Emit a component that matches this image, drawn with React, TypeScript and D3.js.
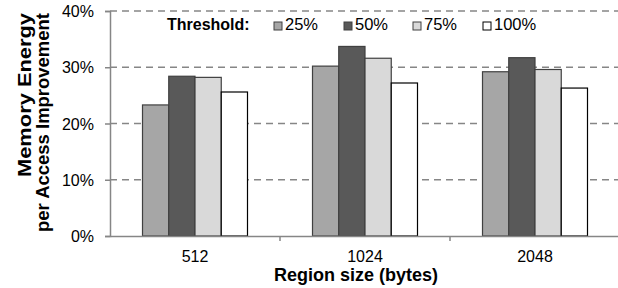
import React, { useRef, useEffect } from 'react';
import * as d3 from 'd3';

const categories = ['512', '1024', '2048'];
const thresholds = ['25%', '50%', '75%', '100%'];
const values = [
  [23.3, 28.4, 28.2, 25.6],
  [30.2, 33.7, 31.6, 27.2],
  [29.2, 31.7, 29.6, 26.3],
];
const yTicks = [0, 10, 20, 30, 40];
const fills = ['#a6a6a6', '#595959', '#d9d9d9', '#ffffff'];
const strokes = ['#404040', '#404040', '#404040', '#000000'];

const W = 618;
const H = 288;
const FONT = '"Liberation Sans", Arial, sans-serif';

function App() {
  const svgRef = useRef<SVGSVGElement>(null);

  useEffect(() => {
    const svg = d3.select(svgRef.current);
    svg.selectAll('*').remove();

    const left = 110, right = 620, top = 11, bottom = 236;

    const x = d3.scaleBand().domain(categories).range([left, right]);
    const inner = d3.scaleBand().domain(thresholds).range([0, 105]);
    const y = d3.scaleLinear().domain([0, 40]).range([bottom, top]);

    // gridlines
    svg.append('g')
      .selectAll('line')
      .data(yTicks.filter(d => d > 0))
      .join('line')
      .attr('x1', left).attr('x2', W)
      .attr('y1', d => y(d)).attr('y2', d => y(d))
      .attr('stroke', '#868686')
      .attr('stroke-width', 1.5)
      .attr('stroke-dasharray', '7,5');

    // bars
    const groups = svg.append('g')
      .selectAll('g')
      .data(values)
      .join('g')
      .attr('transform', (d, i) => `translate(${x(categories[i])! + (x.bandwidth() - 105) / 2},0)`);

    groups.selectAll('rect')
      .data(d => d)
      .join('rect')
      .attr('x', (d, i) => inner(thresholds[i])!)
      .attr('width', inner.bandwidth())
      .attr('y', d => y(d))
      .attr('height', d => bottom - y(d))
      .attr('fill', (d, i) => fills[i])
      .attr('stroke', (d, i) => strokes[i])
      .attr('stroke-width', 1.2);

    // y axis
    const yAxis = svg.append('g')
      .attr('transform', `translate(${left},0)`)
      .call(d3.axisLeft(y).tickValues(yTicks).tickSize(5).tickFormat(d => `${d}%`));
    yAxis.select('.domain').attr('stroke', '#868686').attr('stroke-width', 1.5);
    yAxis.selectAll('line').attr('stroke', '#868686').attr('stroke-width', 1.5);
    yAxis.selectAll('text')
      .attr('font-family', FONT).attr('font-size', 16).attr('fill', '#000')
      .attr('x', -16).attr('dy', '0.35em');

    // x axis
    const xAxis = svg.append('g')
      .attr('transform', `translate(0,${bottom})`)
      .call(d3.axisBottom(x).tickSize(0).tickPadding(0));
    xAxis.select('.domain').attr('stroke', '#868686').attr('stroke-width', 1.5);
    xAxis.selectAll('text')
      .attr('font-family', FONT).attr('font-size', 16).attr('fill', '#000')
      .attr('y', 26).attr('dy', 0);
    svg.append('g')
      .selectAll('line')
      .data(categories.slice(1))
      .join('line')
      .attr('x1', d => x(d)!).attr('x2', d => x(d)!)
      .attr('y1', bottom).attr('y2', bottom + 5)
      .attr('stroke', '#868686').attr('stroke-width', 1.5);

    // axis titles
    svg.append('text')
      .attr('x', 356).attr('y', 281)
      .attr('text-anchor', 'middle')
      .attr('font-family', FONT).attr('font-size', 18).attr('font-weight', 'bold')
      .text('Region size (bytes)');

    const yTitle = svg.append('text')
      .attr('transform', 'translate(0,0) rotate(-90)')
      .attr('text-anchor', 'end')
      .attr('font-family', FONT).attr('font-size', 18).attr('font-weight', 'bold');
    yTitle.append('tspan').attr('x', -13).attr('y', 31)
      .attr('textLength', 164).attr('lengthAdjust', 'spacingAndGlyphs')
      .text('Memory Energy');
    yTitle.append('tspan').attr('x', -13).attr('y', 49)
      .attr('textLength', 219).attr('lengthAdjust', 'spacingAndGlyphs')
      .text('per Access Improvement');

    // legend
    svg.append('text')
      .attr('x', 167).attr('y', 30)
      .attr('font-family', FONT).attr('font-size', 16).attr('font-weight', 'bold')
      .text('Threshold:');
    const legendX = [274, 344, 413, 483];
    const items = svg.append('g')
      .selectAll('g')
      .data(thresholds)
      .join('g')
      .attr('transform', (d, i) => `translate(${legendX[i]},0)`);
    items.append('rect')
      .attr('x', 0).attr('y', 22).attr('width', 8).attr('height', 8)
      .attr('fill', (d, i) => fills[i])
      .attr('stroke', (d, i) => strokes[i]).attr('stroke-width', 1);
    items.append('text')
      .attr('x', 11).attr('y', 30)
      .attr('font-family', FONT).attr('font-size', 16.5)
      .text(d => d);
  }, []);

  return (
    <svg ref={svgRef} width={W} height={H} style={{ position: 'absolute', left: 0, top: 0, background: '#fff' }} />
  );
}

export default App;
